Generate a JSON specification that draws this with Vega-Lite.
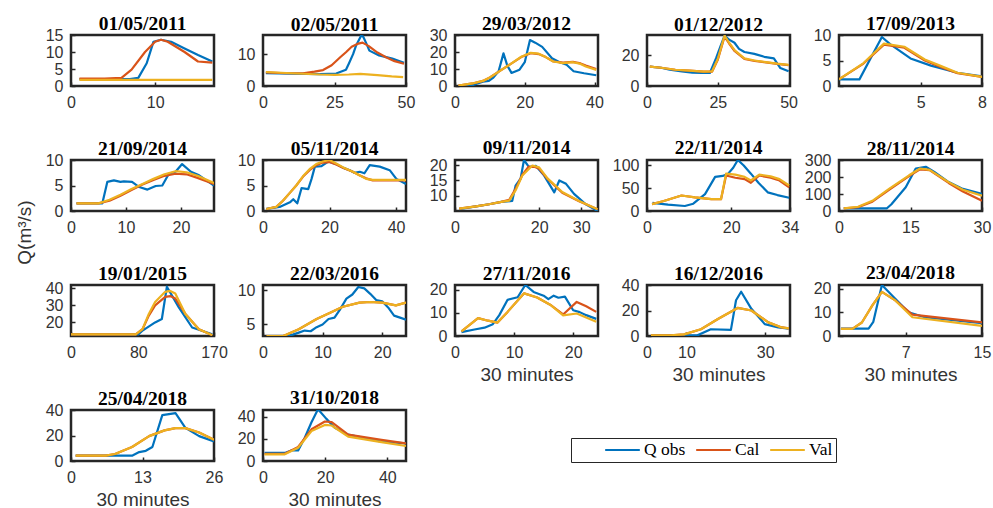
{
"$schema": "https://vega.github.io/schema/vega-lite/v6.json",
"padding": {"left": 13, "top": 12, "right": 5, "bottom": 5},
"background": "white",
"datasets": {"d": [
{"e":1,"s":"Q obs","x":1,"q":2},{"e":1,"s":"Q obs","x":4,"q":2},{"e":1,"s":"Q obs","x":7,"q":2},{"e":1,"s":"Q obs","x":8,"q":2.4},{"e":1,"s":"Q obs","x":9,"q":6.7},{"e":1,"s":"Q obs","x":9.8,"q":13},{"e":1,"s":"Q obs","x":10.7,"q":13.6},{"e":1,"s":"Q obs","x":11.9,"q":13},{"e":1,"s":"Q obs","x":13.5,"q":11},{"e":1,"s":"Q obs","x":15.1,"q":9.1},{"e":1,"s":"Q obs","x":16.8,"q":7.2},
{"e":1,"s":"Cal","x":1,"q":2.2},{"e":1,"s":"Cal","x":4,"q":2.2},{"e":1,"s":"Cal","x":6,"q":2.4},{"e":1,"s":"Cal","x":7.2,"q":4.8},{"e":1,"s":"Cal","x":8.8,"q":10},{"e":1,"s":"Cal","x":10,"q":13},{"e":1,"s":"Cal","x":10.7,"q":13.6},{"e":1,"s":"Cal","x":11.5,"q":13},{"e":1,"s":"Cal","x":13.5,"q":10},{"e":1,"s":"Cal","x":15.1,"q":7.2},{"e":1,"s":"Cal","x":16.8,"q":6.9},
{"e":1,"s":"Val","x":1,"q":1.8},{"e":1,"s":"Val","x":9,"q":1.8},{"e":1,"s":"Val","x":16.8,"q":1.8},

{"e":2,"s":"Q obs","x":1,"q":4},{"e":2,"s":"Q obs","x":10,"q":3.9},{"e":2,"s":"Q obs","x":20,"q":3.7},{"e":2,"s":"Q obs","x":25.6,"q":3.9},{"e":2,"s":"Q obs","x":29,"q":5.1},{"e":2,"s":"Q obs","x":30,"q":7},{"e":2,"s":"Q obs","x":31.5,"q":10},{"e":2,"s":"Q obs","x":32.5,"q":12.6},{"e":2,"s":"Q obs","x":34.3,"q":15.8},{"e":2,"s":"Q obs","x":35,"q":15.5},{"e":2,"s":"Q obs","x":36,"q":13.6},{"e":2,"s":"Q obs","x":37.2,"q":11.1},{"e":2,"s":"Q obs","x":40.6,"q":9.6},{"e":2,"s":"Q obs","x":45.2,"q":8.6},{"e":2,"s":"Q obs","x":49.3,"q":7.3},
{"e":2,"s":"Cal","x":1,"q":4.3},{"e":2,"s":"Cal","x":8,"q":4},{"e":2,"s":"Cal","x":14,"q":4},{"e":2,"s":"Cal","x":18,"q":4.5},{"e":2,"s":"Cal","x":21,"q":5},{"e":2,"s":"Cal","x":24,"q":6.5},{"e":2,"s":"Cal","x":27,"q":9},{"e":2,"s":"Cal","x":29,"q":10.6},{"e":2,"s":"Cal","x":31,"q":12.3},{"e":2,"s":"Cal","x":33,"q":13.2},{"e":2,"s":"Cal","x":34.8,"q":13.6},{"e":2,"s":"Cal","x":37,"q":12.5},{"e":2,"s":"Cal","x":40,"q":10.5},{"e":2,"s":"Cal","x":43,"q":9},{"e":2,"s":"Cal","x":46,"q":7.8},{"e":2,"s":"Cal","x":49.3,"q":7},
{"e":2,"s":"Val","x":1,"q":4.4},{"e":2,"s":"Val","x":10,"q":4},{"e":2,"s":"Val","x":20,"q":3.6},{"e":2,"s":"Val","x":25,"q":3.5},{"e":2,"s":"Val","x":30,"q":3.6},{"e":2,"s":"Val","x":34,"q":3.8},{"e":2,"s":"Val","x":40,"q":3.4},{"e":2,"s":"Val","x":45,"q":3},{"e":2,"s":"Val","x":49,"q":2.8},

{"e":3,"s":"Q obs","x":1,"q":0},{"e":3,"s":"Q obs","x":5,"q":0.5},{"e":3,"s":"Q obs","x":8,"q":2.5},{"e":3,"s":"Q obs","x":9.7,"q":3},{"e":3,"s":"Q obs","x":11,"q":5},{"e":3,"s":"Q obs","x":12.5,"q":8.7},{"e":3,"s":"Q obs","x":13.9,"q":19.2},{"e":3,"s":"Q obs","x":15,"q":12},{"e":3,"s":"Q obs","x":16.2,"q":7.7},{"e":3,"s":"Q obs","x":18.5,"q":9.6},{"e":3,"s":"Q obs","x":20,"q":14},{"e":3,"s":"Q obs","x":21.5,"q":27},{"e":3,"s":"Q obs","x":23,"q":25.5},{"e":3,"s":"Q obs","x":25,"q":23},{"e":3,"s":"Q obs","x":27.8,"q":16.3},{"e":3,"s":"Q obs","x":30,"q":14},{"e":3,"s":"Q obs","x":32,"q":12.5},{"e":3,"s":"Q obs","x":34,"q":8.7},{"e":3,"s":"Q obs","x":37,"q":7.5},{"e":3,"s":"Q obs","x":40.5,"q":6.3},
{"e":3,"s":"Cal","x":1,"q":0.3},{"e":3,"s":"Cal","x":5,"q":1.5},{"e":3,"s":"Cal","x":8,"q":3},{"e":3,"s":"Cal","x":10,"q":5},{"e":3,"s":"Cal","x":13,"q":9},{"e":3,"s":"Cal","x":16,"q":13},{"e":3,"s":"Cal","x":19,"q":17},{"e":3,"s":"Cal","x":21.7,"q":19.3},{"e":3,"s":"Cal","x":24,"q":18.8},{"e":3,"s":"Cal","x":26,"q":17},{"e":3,"s":"Cal","x":28.2,"q":14.4},{"e":3,"s":"Cal","x":31,"q":13.7},{"e":3,"s":"Cal","x":33.8,"q":14.2},{"e":3,"s":"Cal","x":36,"q":13.3},{"e":3,"s":"Cal","x":37.5,"q":12},{"e":3,"s":"Cal","x":40.5,"q":10},
{"e":3,"s":"Val","x":1,"q":0.3},{"e":3,"s":"Val","x":5,"q":1.5},{"e":3,"s":"Val","x":8,"q":3},{"e":3,"s":"Val","x":10,"q":5},{"e":3,"s":"Val","x":13,"q":9},{"e":3,"s":"Val","x":16,"q":13},{"e":3,"s":"Val","x":19,"q":17.2},{"e":3,"s":"Val","x":21.7,"q":19.5},{"e":3,"s":"Val","x":24,"q":19},{"e":3,"s":"Val","x":26,"q":17},{"e":3,"s":"Val","x":28.2,"q":14.4},{"e":3,"s":"Val","x":31,"q":13.5},{"e":3,"s":"Val","x":33.8,"q":14},{"e":3,"s":"Val","x":36,"q":13},{"e":3,"s":"Val","x":37.5,"q":11.5},{"e":3,"s":"Val","x":40.5,"q":9.5},

{"e":4,"s":"Q obs","x":1,"q":12.5},{"e":4,"s":"Q obs","x":5,"q":11.8},{"e":4,"s":"Q obs","x":8,"q":10.5},{"e":4,"s":"Q obs","x":12.3,"q":9.5},{"e":4,"s":"Q obs","x":16,"q":8.7},{"e":4,"s":"Q obs","x":19.3,"q":8.4},{"e":4,"s":"Q obs","x":22.2,"q":8.4},{"e":4,"s":"Q obs","x":24.4,"q":18},{"e":4,"s":"Q obs","x":26,"q":26},{"e":4,"s":"Q obs","x":27.4,"q":32.5},{"e":4,"s":"Q obs","x":29,"q":30},{"e":4,"s":"Q obs","x":30.9,"q":28},{"e":4,"s":"Q obs","x":32.5,"q":24},{"e":4,"s":"Q obs","x":34.4,"q":22},{"e":4,"s":"Q obs","x":37.9,"q":20.8},{"e":4,"s":"Q obs","x":41.4,"q":18.9},{"e":4,"s":"Q obs","x":44.8,"q":17.9},{"e":4,"s":"Q obs","x":47.1,"q":11.6},{"e":4,"s":"Q obs","x":50,"q":9.5},
{"e":4,"s":"Cal","x":1,"q":12.5},{"e":4,"s":"Cal","x":5,"q":11.8},{"e":4,"s":"Cal","x":10,"q":10.5},{"e":4,"s":"Cal","x":15,"q":10},{"e":4,"s":"Cal","x":20,"q":9.3},{"e":4,"s":"Cal","x":23,"q":9.3},{"e":4,"s":"Cal","x":25,"q":17},{"e":4,"s":"Cal","x":27.4,"q":32},{"e":4,"s":"Cal","x":29,"q":27.5},{"e":4,"s":"Cal","x":31,"q":22.5},{"e":4,"s":"Cal","x":34.4,"q":17.5},{"e":4,"s":"Cal","x":38,"q":16.2},{"e":4,"s":"Cal","x":42,"q":15.3},{"e":4,"s":"Cal","x":46,"q":14.3},{"e":4,"s":"Cal","x":50,"q":13.5},
{"e":4,"s":"Val","x":1,"q":12.5},{"e":4,"s":"Val","x":5,"q":11.8},{"e":4,"s":"Val","x":10,"q":10.5},{"e":4,"s":"Val","x":15,"q":10},{"e":4,"s":"Val","x":20,"q":9.3},{"e":4,"s":"Val","x":23,"q":9.5},{"e":4,"s":"Val","x":25,"q":17.5},{"e":4,"s":"Val","x":27.4,"q":32.6},{"e":4,"s":"Val","x":29,"q":28},{"e":4,"s":"Val","x":31,"q":23},{"e":4,"s":"Val","x":34.4,"q":17.9},{"e":4,"s":"Val","x":38,"q":16.5},{"e":4,"s":"Val","x":42,"q":15.5},{"e":4,"s":"Val","x":46,"q":14.5},{"e":4,"s":"Val","x":50,"q":13.7},

{"e":5,"s":"Q obs","x":1,"q":1.3},{"e":5,"s":"Q obs","x":2,"q":1.3},{"e":5,"s":"Q obs","x":3.1,"q":9.6},{"e":5,"s":"Q obs","x":3.5,"q":8.2},{"e":5,"s":"Q obs","x":4.5,"q":5.4},{"e":5,"s":"Q obs","x":5.5,"q":4},{"e":5,"s":"Q obs","x":6.8,"q":2.6},{"e":5,"s":"Q obs","x":8,"q":1.9},
{"e":5,"s":"Cal","x":1,"q":1.3},{"e":5,"s":"Cal","x":2.2,"q":4.4},{"e":5,"s":"Cal","x":3.2,"q":8.1},{"e":5,"s":"Cal","x":4.2,"q":7.5},{"e":5,"s":"Cal","x":5.2,"q":5},{"e":5,"s":"Cal","x":6,"q":3.7},{"e":5,"s":"Cal","x":6.8,"q":2.5},{"e":5,"s":"Cal","x":8,"q":1.8},
{"e":5,"s":"Val","x":1,"q":1.3},{"e":5,"s":"Val","x":2.2,"q":4.5},{"e":5,"s":"Val","x":3.2,"q":8.3},{"e":5,"s":"Val","x":4.2,"q":7.7},{"e":5,"s":"Val","x":5.2,"q":5.2},{"e":5,"s":"Val","x":6,"q":3.9},{"e":5,"s":"Val","x":6.8,"q":2.6},{"e":5,"s":"Val","x":8,"q":1.8},

{"e":6,"s":"Q obs","x":1,"q":1.5},{"e":6,"s":"Q obs","x":5.7,"q":1.5},{"e":6,"s":"Q obs","x":6.6,"q":5.7},{"e":6,"s":"Q obs","x":7.8,"q":6},{"e":6,"s":"Q obs","x":9,"q":5.7},{"e":6,"s":"Q obs","x":9.6,"q":5.8},{"e":6,"s":"Q obs","x":11.1,"q":5.7},{"e":6,"s":"Q obs","x":12.4,"q":4.7},{"e":6,"s":"Q obs","x":13.9,"q":4.2},{"e":6,"s":"Q obs","x":15.4,"q":4.9},{"e":6,"s":"Q obs","x":16.6,"q":5},{"e":6,"s":"Q obs","x":17.8,"q":7.3},{"e":6,"s":"Q obs","x":19,"q":7.7},{"e":6,"s":"Q obs","x":20.2,"q":9.2},{"e":6,"s":"Q obs","x":21.8,"q":7.7},{"e":6,"s":"Q obs","x":23.3,"q":7},{"e":6,"s":"Q obs","x":26,"q":5},
{"e":6,"s":"Cal","x":1,"q":1.5},{"e":6,"s":"Cal","x":5,"q":1.5},{"e":6,"s":"Cal","x":7,"q":2},{"e":6,"s":"Cal","x":9,"q":3},{"e":6,"s":"Cal","x":11,"q":4.1},{"e":6,"s":"Cal","x":13,"q":5.2},{"e":6,"s":"Cal","x":15,"q":6.1},{"e":6,"s":"Cal","x":17,"q":6.9},{"e":6,"s":"Cal","x":19,"q":7.3},{"e":6,"s":"Cal","x":21,"q":7.2},{"e":6,"s":"Cal","x":23,"q":6.5},{"e":6,"s":"Cal","x":26,"q":5.3},
{"e":6,"s":"Val","x":1,"q":1.5},{"e":6,"s":"Val","x":5,"q":1.5},{"e":6,"s":"Val","x":7,"q":2.2},{"e":6,"s":"Val","x":9,"q":3.2},{"e":6,"s":"Val","x":11,"q":4.3},{"e":6,"s":"Val","x":13,"q":5.3},{"e":6,"s":"Val","x":15,"q":6.3},{"e":6,"s":"Val","x":17,"q":7.2},{"e":6,"s":"Val","x":19,"q":7.8},{"e":6,"s":"Val","x":21,"q":7.6},{"e":6,"s":"Val","x":23,"q":6.9},{"e":6,"s":"Val","x":26,"q":5.5},

{"e":7,"s":"Q obs","x":1,"q":0.4},{"e":7,"s":"Q obs","x":5,"q":0.8},{"e":7,"s":"Q obs","x":8.1,"q":1.7},{"e":7,"s":"Q obs","x":9.1,"q":2.3},{"e":7,"s":"Q obs","x":10.3,"q":1.5},{"e":7,"s":"Q obs","x":11.6,"q":4.5},{"e":7,"s":"Q obs","x":13.6,"q":4.3},{"e":7,"s":"Q obs","x":14.6,"q":6.3},{"e":7,"s":"Q obs","x":15.6,"q":8.7},{"e":7,"s":"Q obs","x":17.6,"q":8.8},{"e":7,"s":"Q obs","x":19.6,"q":9.7},{"e":7,"s":"Q obs","x":22,"q":9.2},{"e":7,"s":"Q obs","x":24,"q":8.5},{"e":7,"s":"Q obs","x":26.1,"q":8},{"e":7,"s":"Q obs","x":27.5,"q":7.5},{"e":7,"s":"Q obs","x":29.1,"q":7.7},{"e":7,"s":"Q obs","x":30.5,"q":7.4},{"e":7,"s":"Q obs","x":32.1,"q":9},{"e":7,"s":"Q obs","x":35.1,"q":8.7},{"e":7,"s":"Q obs","x":38.1,"q":8},{"e":7,"s":"Q obs","x":40.1,"q":6.3},{"e":7,"s":"Q obs","x":43,"q":5.3},
{"e":7,"s":"Cal","x":1,"q":0.4},{"e":7,"s":"Cal","x":4,"q":0.8},{"e":7,"s":"Cal","x":6,"q":2},{"e":7,"s":"Cal","x":8,"q":3.5},{"e":7,"s":"Cal","x":10,"q":5},{"e":7,"s":"Cal","x":12,"q":6.7},{"e":7,"s":"Cal","x":14,"q":8},{"e":7,"s":"Cal","x":16,"q":9},{"e":7,"s":"Cal","x":18,"q":9.5},{"e":7,"s":"Cal","x":20,"q":9.6},{"e":7,"s":"Cal","x":22,"q":9.1},{"e":7,"s":"Cal","x":24,"q":8.5},{"e":7,"s":"Cal","x":27,"q":7.7},{"e":7,"s":"Cal","x":29,"q":7},{"e":7,"s":"Cal","x":31,"q":6.4},{"e":7,"s":"Cal","x":33,"q":6},{"e":7,"s":"Cal","x":36,"q":6},{"e":7,"s":"Cal","x":40,"q":6},{"e":7,"s":"Cal","x":43,"q":6},
{"e":7,"s":"Val","x":1,"q":0.4},{"e":7,"s":"Val","x":4,"q":0.8},{"e":7,"s":"Val","x":6,"q":2},{"e":7,"s":"Val","x":8,"q":3.5},{"e":7,"s":"Val","x":10,"q":5},{"e":7,"s":"Val","x":12,"q":6.8},{"e":7,"s":"Val","x":14,"q":8.2},{"e":7,"s":"Val","x":16,"q":9.2},{"e":7,"s":"Val","x":18,"q":9.7},{"e":7,"s":"Val","x":20,"q":10},{"e":7,"s":"Val","x":22,"q":9.3},{"e":7,"s":"Val","x":24,"q":8.6},{"e":7,"s":"Val","x":27,"q":7.7},{"e":7,"s":"Val","x":29,"q":7},{"e":7,"s":"Val","x":31,"q":6.3},{"e":7,"s":"Val","x":33,"q":6.1},{"e":7,"s":"Val","x":36,"q":6.1},{"e":7,"s":"Val","x":40,"q":6.1},{"e":7,"s":"Val","x":43,"q":6.1},

{"e":8,"s":"Q obs","x":1,"q":5.6},{"e":8,"s":"Q obs","x":5,"q":6.5},{"e":8,"s":"Q obs","x":8.1,"q":7.2},{"e":8,"s":"Q obs","x":11,"q":8},{"e":8,"s":"Q obs","x":13.6,"q":8.3},{"e":8,"s":"Q obs","x":14.4,"q":13.3},{"e":8,"s":"Q obs","x":15.6,"q":15.6},{"e":8,"s":"Q obs","x":16.4,"q":21.7},{"e":8,"s":"Q obs","x":17.6,"q":19.4},{"e":8,"s":"Q obs","x":19.2,"q":19.8},{"e":8,"s":"Q obs","x":21.2,"q":16.6},{"e":8,"s":"Q obs","x":23.6,"q":11.1},{"e":8,"s":"Q obs","x":24.8,"q":15},{"e":8,"s":"Q obs","x":26.4,"q":13.9},{"e":8,"s":"Q obs","x":28.3,"q":10.6},{"e":8,"s":"Q obs","x":31.1,"q":7.2},{"e":8,"s":"Q obs","x":33.9,"q":5},
{"e":8,"s":"Cal","x":1,"q":5.8},{"e":8,"s":"Cal","x":5,"q":6.5},{"e":8,"s":"Cal","x":8.1,"q":7.2},{"e":8,"s":"Cal","x":11,"q":8},{"e":8,"s":"Cal","x":12.9,"q":8.7},{"e":8,"s":"Cal","x":14.5,"q":12.5},{"e":8,"s":"Cal","x":16,"q":16.8},{"e":8,"s":"Cal","x":17.5,"q":19.5},{"e":8,"s":"Cal","x":19,"q":19.4},{"e":8,"s":"Cal","x":20,"q":18.8},{"e":8,"s":"Cal","x":22,"q":15.5},{"e":8,"s":"Cal","x":25.5,"q":11},{"e":8,"s":"Cal","x":29.5,"q":8.2},{"e":8,"s":"Cal","x":33.9,"q":5.6},
{"e":8,"s":"Val","x":1,"q":5.8},{"e":8,"s":"Val","x":5,"q":6.5},{"e":8,"s":"Val","x":8.1,"q":7.2},{"e":8,"s":"Val","x":11,"q":8},{"e":8,"s":"Val","x":12.9,"q":8.4},{"e":8,"s":"Val","x":14.5,"q":12},{"e":8,"s":"Val","x":16,"q":16.6},{"e":8,"s":"Val","x":18.4,"q":19.9},{"e":8,"s":"Val","x":20,"q":19.3},{"e":8,"s":"Val","x":22,"q":15.7},{"e":8,"s":"Val","x":25.5,"q":11.2},{"e":8,"s":"Val","x":29.5,"q":8.3},{"e":8,"s":"Val","x":33.9,"q":5.6},

{"e":9,"s":"Q obs","x":1.3,"q":18},{"e":9,"s":"Q obs","x":5,"q":14},{"e":9,"s":"Q obs","x":9,"q":11},{"e":9,"s":"Q obs","x":11,"q":16},{"e":9,"s":"Q obs","x":13.8,"q":37},{"e":9,"s":"Q obs","x":16.2,"q":75},{"e":9,"s":"Q obs","x":18,"q":77},{"e":9,"s":"Q obs","x":19.3,"q":82},{"e":9,"s":"Q obs","x":20.5,"q":95},{"e":9,"s":"Q obs","x":21.6,"q":112},{"e":9,"s":"Q obs","x":23,"q":100},{"e":9,"s":"Q obs","x":24.7,"q":82},{"e":9,"s":"Q obs","x":26.5,"q":62},{"e":9,"s":"Q obs","x":28.7,"q":41},{"e":9,"s":"Q obs","x":31,"q":35},{"e":9,"s":"Q obs","x":33.8,"q":29},
{"e":9,"s":"Cal","x":1.2,"q":15},{"e":9,"s":"Cal","x":4,"q":22},{"e":9,"s":"Cal","x":8.2,"q":34},{"e":9,"s":"Cal","x":11.4,"q":30},{"e":9,"s":"Cal","x":15.3,"q":26},{"e":9,"s":"Cal","x":17.6,"q":26},{"e":9,"s":"Cal","x":18.8,"q":78},{"e":9,"s":"Cal","x":21,"q":73},{"e":9,"s":"Cal","x":23.2,"q":70},{"e":9,"s":"Cal","x":24.7,"q":62},{"e":9,"s":"Cal","x":26.7,"q":78},{"e":9,"s":"Cal","x":29.4,"q":73},{"e":9,"s":"Cal","x":31.5,"q":67},{"e":9,"s":"Cal","x":33.8,"q":52},
{"e":9,"s":"Val","x":1.2,"q":15},{"e":9,"s":"Val","x":4,"q":22},{"e":9,"s":"Val","x":8.2,"q":34},{"e":9,"s":"Val","x":11.4,"q":30},{"e":9,"s":"Val","x":15.3,"q":26},{"e":9,"s":"Val","x":17.6,"q":26},{"e":9,"s":"Val","x":18.8,"q":82},{"e":9,"s":"Val","x":21,"q":80},{"e":9,"s":"Val","x":23.2,"q":75},{"e":9,"s":"Val","x":24.7,"q":67},{"e":9,"s":"Val","x":26.7,"q":80},{"e":9,"s":"Val","x":29.4,"q":76},{"e":9,"s":"Val","x":31.5,"q":70},{"e":9,"s":"Val","x":33.8,"q":56},

{"e":10,"s":"Q obs","x":1,"q":15},{"e":10,"s":"Q obs","x":5,"q":15},{"e":10,"s":"Q obs","x":10,"q":15},{"e":10,"s":"Q obs","x":11,"q":40},{"e":10,"s":"Q obs","x":14,"q":140},{"e":10,"s":"Q obs","x":16.1,"q":250},{"e":10,"s":"Q obs","x":18.2,"q":260},{"e":10,"s":"Q obs","x":20,"q":230},{"e":10,"s":"Q obs","x":23,"q":170},{"e":10,"s":"Q obs","x":26,"q":130},{"e":10,"s":"Q obs","x":30,"q":100},
{"e":10,"s":"Cal","x":1,"q":15},{"e":10,"s":"Cal","x":4,"q":22},{"e":10,"s":"Cal","x":7,"q":55},{"e":10,"s":"Cal","x":10.5,"q":125},{"e":10,"s":"Cal","x":14.7,"q":205},{"e":10,"s":"Cal","x":17,"q":245},{"e":10,"s":"Cal","x":19,"q":240},{"e":10,"s":"Cal","x":23,"q":165},{"e":10,"s":"Cal","x":26,"q":115},{"e":10,"s":"Cal","x":30,"q":60},
{"e":10,"s":"Val","x":1,"q":15},{"e":10,"s":"Val","x":4,"q":25},{"e":10,"s":"Val","x":7,"q":60},{"e":10,"s":"Val","x":10.5,"q":130},{"e":10,"s":"Val","x":14.7,"q":210},{"e":10,"s":"Val","x":17,"q":250},{"e":10,"s":"Val","x":19,"q":242},{"e":10,"s":"Val","x":23,"q":170},{"e":10,"s":"Val","x":26,"q":125},{"e":10,"s":"Val","x":30,"q":90},

{"e":11,"s":"Q obs","x":0,"q":13},{"e":11,"s":"Q obs","x":40,"q":13},{"e":11,"s":"Q obs","x":80,"q":13},{"e":11,"s":"Q obs","x":84.6,"q":15},{"e":11,"s":"Q obs","x":100,"q":20},{"e":11,"s":"Q obs","x":108,"q":22},{"e":11,"s":"Q obs","x":114,"q":41},{"e":11,"s":"Q obs","x":128,"q":29},{"e":11,"s":"Q obs","x":144,"q":17},{"e":11,"s":"Q obs","x":168,"q":13},
{"e":11,"s":"Cal","x":0,"q":13},{"e":11,"s":"Cal","x":77,"q":13},{"e":11,"s":"Cal","x":85,"q":16},{"e":11,"s":"Cal","x":92.5,"q":24},{"e":11,"s":"Cal","x":100,"q":30},{"e":11,"s":"Cal","x":112,"q":35},{"e":11,"s":"Cal","x":118,"q":35.5},{"e":11,"s":"Cal","x":124,"q":34},{"e":11,"s":"Cal","x":136,"q":25},{"e":11,"s":"Cal","x":152,"q":16},{"e":11,"s":"Cal","x":168,"q":12.5},
{"e":11,"s":"Val","x":0,"q":13},{"e":11,"s":"Val","x":77,"q":13},{"e":11,"s":"Val","x":85,"q":16},{"e":11,"s":"Val","x":92.5,"q":25},{"e":11,"s":"Val","x":100,"q":32},{"e":11,"s":"Val","x":112,"q":38},{"e":11,"s":"Val","x":118,"q":38.5},{"e":11,"s":"Val","x":124,"q":37},{"e":11,"s":"Val","x":136,"q":25},{"e":11,"s":"Val","x":152,"q":16},{"e":11,"s":"Val","x":168,"q":12.5},

{"e":12,"s":"Q obs","x":1,"q":3.3},{"e":12,"s":"Q obs","x":4,"q":3.3},{"e":12,"s":"Q obs","x":5,"q":3.5},{"e":12,"s":"Q obs","x":6,"q":3.8},{"e":12,"s":"Q obs","x":7,"q":4.1},{"e":12,"s":"Q obs","x":8,"q":4},{"e":12,"s":"Q obs","x":9,"q":4.6},{"e":12,"s":"Q obs","x":10,"q":5},{"e":12,"s":"Q obs","x":11,"q":5.8},{"e":12,"s":"Q obs","x":12,"q":6},{"e":12,"s":"Q obs","x":13,"q":7.3},{"e":12,"s":"Q obs","x":14,"q":8.8},{"e":12,"s":"Q obs","x":15,"q":9.4},{"e":12,"s":"Q obs","x":16,"q":10.5},{"e":12,"s":"Q obs","x":17,"q":10.3},{"e":12,"s":"Q obs","x":18,"q":9.5},{"e":12,"s":"Q obs","x":19,"q":8.6},{"e":12,"s":"Q obs","x":20,"q":8.4},{"e":12,"s":"Q obs","x":21,"q":7.5},{"e":12,"s":"Q obs","x":22,"q":6.3},{"e":12,"s":"Q obs","x":23,"q":6},{"e":12,"s":"Q obs","x":24,"q":5.7},
{"e":12,"s":"Cal","x":0.6,"q":3.3},{"e":12,"s":"Cal","x":3.4,"q":3.3},{"e":12,"s":"Cal","x":6,"q":4.3},{"e":12,"s":"Cal","x":9,"q":5.8},{"e":12,"s":"Cal","x":11,"q":6.6},{"e":12,"s":"Cal","x":13.4,"q":7.6},{"e":12,"s":"Cal","x":16.2,"q":8.2},{"e":12,"s":"Cal","x":18,"q":8.3},{"e":12,"s":"Cal","x":20,"q":8.2},{"e":12,"s":"Cal","x":22.3,"q":7.8},{"e":12,"s":"Cal","x":24,"q":8.2},
{"e":12,"s":"Val","x":0.6,"q":3.3},{"e":12,"s":"Val","x":3.4,"q":3.3},{"e":12,"s":"Val","x":6,"q":4.3},{"e":12,"s":"Val","x":9,"q":5.8},{"e":12,"s":"Val","x":11,"q":6.6},{"e":12,"s":"Val","x":13.4,"q":7.6},{"e":12,"s":"Val","x":16.2,"q":8.2},{"e":12,"s":"Val","x":18,"q":8.3},{"e":12,"s":"Val","x":20,"q":8.2},{"e":12,"s":"Val","x":22.3,"q":7.8},{"e":12,"s":"Val","x":24,"q":8.2},

{"e":13,"s":"Q obs","x":1.1,"q":1.7},{"e":13,"s":"Q obs","x":3.3,"q":2.8},{"e":13,"s":"Q obs","x":5,"q":3.6},{"e":13,"s":"Q obs","x":6.4,"q":5.1},{"e":13,"s":"Q obs","x":7.5,"q":9},{"e":13,"s":"Q obs","x":8.9,"q":15.6},{"e":13,"s":"Q obs","x":10.6,"q":16.7},{"e":13,"s":"Q obs","x":11.9,"q":22},{"e":13,"s":"Q obs","x":13.3,"q":19},{"e":13,"s":"Q obs","x":15,"q":17.4},{"e":13,"s":"Q obs","x":15.8,"q":15.9},{"e":13,"s":"Q obs","x":16.7,"q":17.4},{"e":13,"s":"Q obs","x":17.5,"q":16.5},{"e":13,"s":"Q obs","x":18.6,"q":17},{"e":13,"s":"Q obs","x":20,"q":11.1},{"e":13,"s":"Q obs","x":21.1,"q":10.3},{"e":13,"s":"Q obs","x":22.2,"q":9},{"e":13,"s":"Q obs","x":23.9,"q":7.4},
{"e":13,"s":"Cal","x":1.1,"q":2},{"e":13,"s":"Cal","x":3.9,"q":7.7},{"e":13,"s":"Cal","x":5.6,"q":6.6},{"e":13,"s":"Cal","x":7.2,"q":5.8},{"e":13,"s":"Cal","x":8.9,"q":10.4},{"e":13,"s":"Cal","x":11.7,"q":18.4},{"e":13,"s":"Cal","x":13.9,"q":16.6},{"e":13,"s":"Cal","x":16.1,"q":13.5},{"e":13,"s":"Cal","x":18.3,"q":9.3},{"e":13,"s":"Cal","x":20.6,"q":14.7},{"e":13,"s":"Cal","x":22.2,"q":12.8},{"e":13,"s":"Cal","x":23.9,"q":10.4},
{"e":13,"s":"Val","x":1.1,"q":2},{"e":13,"s":"Val","x":3.9,"q":7.7},{"e":13,"s":"Val","x":5.6,"q":6.6},{"e":13,"s":"Val","x":7.2,"q":5.8},{"e":13,"s":"Val","x":8.9,"q":10.4},{"e":13,"s":"Val","x":11.7,"q":18.4},{"e":13,"s":"Val","x":13.9,"q":16.6},{"e":13,"s":"Val","x":16.1,"q":13.5},{"e":13,"s":"Val","x":18.3,"q":8.9},{"e":13,"s":"Val","x":20.6,"q":9.7},{"e":13,"s":"Val","x":23.9,"q":6.1},

{"e":14,"s":"Q obs","x":1,"q":0.5},{"e":14,"s":"Q obs","x":12.8,"q":0.5},{"e":14,"s":"Q obs","x":16.2,"q":5.3},{"e":14,"s":"Q obs","x":21.3,"q":4.8},{"e":14,"s":"Q obs","x":22.6,"q":28},{"e":14,"s":"Q obs","x":23.9,"q":34.7},{"e":14,"s":"Q obs","x":26.5,"q":21.3},{"e":14,"s":"Q obs","x":29.9,"q":9.3},{"e":14,"s":"Q obs","x":33.3,"q":6.7},{"e":14,"s":"Q obs","x":36,"q":5.8},
{"e":14,"s":"Cal","x":1,"q":0.5},{"e":14,"s":"Cal","x":6,"q":0.6},{"e":14,"s":"Cal","x":9.4,"q":1.3},{"e":14,"s":"Cal","x":13.7,"q":5.3},{"e":14,"s":"Cal","x":18,"q":13.3},{"e":14,"s":"Cal","x":23,"q":22},{"e":14,"s":"Cal","x":26.5,"q":20},{"e":14,"s":"Cal","x":30.8,"q":10.7},{"e":14,"s":"Cal","x":34.2,"q":6.7},{"e":14,"s":"Cal","x":36,"q":6},
{"e":14,"s":"Val","x":1,"q":0.5},{"e":14,"s":"Val","x":6,"q":0.6},{"e":14,"s":"Val","x":9.4,"q":1.3},{"e":14,"s":"Val","x":13.7,"q":5.3},{"e":14,"s":"Val","x":18,"q":13.3},{"e":14,"s":"Val","x":23,"q":22},{"e":14,"s":"Val","x":26.5,"q":20},{"e":14,"s":"Val","x":30.8,"q":10.7},{"e":14,"s":"Val","x":34.2,"q":6.7},{"e":14,"s":"Val","x":36,"q":6},

{"e":15,"s":"Q obs","x":0.2,"q":3.1},{"e":15,"s":"Q obs","x":3.1,"q":3.1},{"e":15,"s":"Q obs","x":3.6,"q":6},{"e":15,"s":"Q obs","x":4.5,"q":21.5},{"e":15,"s":"Q obs","x":5.9,"q":15.7},{"e":15,"s":"Q obs","x":7.3,"q":10},{"e":15,"s":"Q obs","x":9,"q":7.9},{"e":15,"s":"Q obs","x":15,"q":5.4},
{"e":15,"s":"Cal","x":0.2,"q":3},{"e":15,"s":"Cal","x":1.4,"q":3},{"e":15,"s":"Cal","x":2.4,"q":5.7},{"e":15,"s":"Cal","x":3.5,"q":12.9},{"e":15,"s":"Cal","x":4.5,"q":18.6},{"e":15,"s":"Cal","x":5.9,"q":15},{"e":15,"s":"Cal","x":7.7,"q":9},{"e":15,"s":"Cal","x":15,"q":5.7},
{"e":15,"s":"Val","x":0.2,"q":3},{"e":15,"s":"Val","x":1.4,"q":3},{"e":15,"s":"Val","x":2.4,"q":5.7},{"e":15,"s":"Val","x":3.5,"q":12.9},{"e":15,"s":"Val","x":4.5,"q":18.6},{"e":15,"s":"Val","x":5.9,"q":15},{"e":15,"s":"Val","x":7.7,"q":7.9},{"e":15,"s":"Val","x":15,"q":4.3},

{"e":16,"s":"Q obs","x":0.85,"q":4.2},{"e":16,"s":"Q obs","x":6.9,"q":4.2},{"e":16,"s":"Q obs","x":11.1,"q":4.2},{"e":16,"s":"Q obs","x":12.4,"q":7},{"e":16,"s":"Q obs","x":13.6,"q":8},{"e":16,"s":"Q obs","x":14.8,"q":11},{"e":16,"s":"Q obs","x":16.6,"q":36},{"e":16,"s":"Q obs","x":19,"q":37.5},{"e":16,"s":"Q obs","x":20.8,"q":26},{"e":16,"s":"Q obs","x":23.3,"q":19.5},{"e":16,"s":"Q obs","x":26,"q":15.3},
{"e":16,"s":"Cal","x":0.85,"q":4.2},{"e":16,"s":"Cal","x":6.3,"q":4.2},{"e":16,"s":"Cal","x":8,"q":5.5},{"e":16,"s":"Cal","x":11.1,"q":11},{"e":16,"s":"Cal","x":14.2,"q":19.5},{"e":16,"s":"Cal","x":17,"q":24},{"e":16,"s":"Cal","x":19,"q":25.8},{"e":16,"s":"Cal","x":20.8,"q":25.8},{"e":16,"s":"Cal","x":23.3,"q":22.3},{"e":16,"s":"Cal","x":26,"q":16.7},
{"e":16,"s":"Val","x":0.85,"q":4.2},{"e":16,"s":"Val","x":6.3,"q":4.2},{"e":16,"s":"Val","x":8,"q":5.5},{"e":16,"s":"Val","x":11.1,"q":11},{"e":16,"s":"Val","x":14.2,"q":19.5},{"e":16,"s":"Val","x":17,"q":24},{"e":16,"s":"Val","x":19,"q":25.8},{"e":16,"s":"Val","x":20.8,"q":25.8},{"e":16,"s":"Val","x":23.3,"q":22.3},{"e":16,"s":"Val","x":26,"q":16.7},

{"e":17,"s":"Q obs","x":0.5,"q":7.3},{"e":17,"s":"Q obs","x":7,"q":7.3},{"e":17,"s":"Q obs","x":9.1,"q":9.5},{"e":17,"s":"Q obs","x":11.3,"q":9.5},{"e":17,"s":"Q obs","x":13.4,"q":20.7},{"e":17,"s":"Q obs","x":15.6,"q":35},{"e":17,"s":"Q obs","x":17.7,"q":46.7},{"e":17,"s":"Q obs","x":20.4,"q":38},{"e":17,"s":"Q obs","x":23.1,"q":30},{"e":17,"s":"Q obs","x":27.4,"q":23.8},{"e":17,"s":"Q obs","x":38.1,"q":17.5},{"e":17,"s":"Q obs","x":46,"q":15.9},
{"e":17,"s":"Cal","x":0.5,"q":6.5},{"e":17,"s":"Cal","x":7,"q":6.5},{"e":17,"s":"Cal","x":11.3,"q":12.7},{"e":17,"s":"Cal","x":15.6,"q":28.6},{"e":17,"s":"Cal","x":19.9,"q":35.6},{"e":17,"s":"Cal","x":22.1,"q":35},{"e":17,"s":"Cal","x":27.4,"q":23.8},{"e":17,"s":"Cal","x":38.1,"q":19},{"e":17,"s":"Cal","x":46,"q":15.9},
{"e":17,"s":"Val","x":0.5,"q":6},{"e":17,"s":"Val","x":7,"q":6},{"e":17,"s":"Val","x":11.3,"q":12},{"e":17,"s":"Val","x":15.6,"q":27},{"e":17,"s":"Val","x":19.9,"q":32.5},{"e":17,"s":"Val","x":22.1,"q":32},{"e":17,"s":"Val","x":27.4,"q":22},{"e":17,"s":"Val","x":38.1,"q":17},{"e":17,"s":"Val","x":46,"q":13.5}
]},
"data": {"name": "d"},
"columns": 5,
"spacing": {"row": 74, "column": 49},
"bounds": "flush",
"resolve": {"scale": {"color": "shared"}},
"concat": [
{"title":{"text":"01/05/2011","offset":-7},"width":143,"height":51,"transform":[{"filter":"datum.e==1"}],"mark":{"type":"line","clip":true},"encoding":{"x":{"field":"x","type":"quantitative","scale":{"domain":[0,17],"nice":false},"axis":{"values":[0,10],"title":null}},"y":{"field":"q","type":"quantitative","scale":{"domain":[0,15],"nice":false},"axis":{"values":[0,5,10,15],"title":null}},"color":{"field":"s","type":"nominal","scale":{"domain":["Q obs","Cal","Val"],"range":["#0072BD","#D95319","#EDB120"]},"legend":{"title":" ","titleOrient":"left","titlePadding":30}}}},
{"title":{"text":"02/05/2011","offset":0},"width":143,"height":51,"transform":[{"filter":"datum.e==2"}],"mark":{"type":"line","clip":true},"encoding":{"x":{"field":"x","type":"quantitative","scale":{"domain":[0,50],"nice":false},"axis":{"values":[0,25,50],"title":null}},"y":{"field":"q","type":"quantitative","scale":{"domain":[0,16],"nice":false},"axis":{"values":[0,10],"title":null}},"color":{"field":"s","type":"nominal","scale":{"domain":["Q obs","Cal","Val"],"range":["#0072BD","#D95319","#EDB120"]}}}},
{"title":{"text":"29/03/2012","offset":-7},"width":143,"height":51,"transform":[{"filter":"datum.e==3"}],"mark":{"type":"line","clip":true},"encoding":{"x":{"field":"x","type":"quantitative","scale":{"domain":[0,41],"nice":false},"axis":{"values":[0,20,40],"title":null}},"y":{"field":"q","type":"quantitative","scale":{"domain":[0,30],"nice":false},"axis":{"values":[0,10,20,30],"title":null}},"color":{"field":"s","type":"nominal","scale":{"domain":["Q obs","Cal","Val"],"range":["#0072BD","#D95319","#EDB120"]}}}},
{"title":{"text":"01/12/2012","offset":0},"width":143,"height":51,"transform":[{"filter":"datum.e==4"}],"mark":{"type":"line","clip":true},"encoding":{"x":{"field":"x","type":"quantitative","scale":{"domain":[0,50.5],"nice":false},"axis":{"values":[0,25,50],"title":null}},"y":{"field":"q","type":"quantitative","scale":{"domain":[0,33],"nice":false},"axis":{"values":[0,20],"title":null}},"color":{"field":"s","type":"nominal","scale":{"domain":["Q obs","Cal","Val"],"range":["#0072BD","#D95319","#EDB120"]}}}},
{"title":{"text":"17/09/2013","offset":-7},"width":143,"height":51,"transform":[{"filter":"datum.e==5"}],"mark":{"type":"line","clip":true},"encoding":{"x":{"field":"x","type":"quantitative","scale":{"domain":[1,8],"nice":false},"axis":{"values":[5,8],"title":null}},"y":{"field":"q","type":"quantitative","scale":{"domain":[0,10],"nice":false},"axis":{"values":[0,5,10],"title":null}},"color":{"field":"s","type":"nominal","scale":{"domain":["Q obs","Cal","Val"],"range":["#0072BD","#D95319","#EDB120"]}}}},
{"title":{"text":"21/09/2014","offset":-7},"width":143,"height":51,"transform":[{"filter":"datum.e==6"}],"mark":{"type":"line","clip":true},"encoding":{"x":{"field":"x","type":"quantitative","scale":{"domain":[0,26],"nice":false},"axis":{"values":[0,10,20],"title":null}},"y":{"field":"q","type":"quantitative","scale":{"domain":[0,10],"nice":false},"axis":{"values":[0,5,10],"title":"Q(m³/s)","titleX":-47,"titleY":72,"titleAngle":-90,"titleAlign":"center","titleBaseline":"middle"}},"color":{"field":"s","type":"nominal","scale":{"domain":["Q obs","Cal","Val"],"range":["#0072BD","#D95319","#EDB120"]}}}},
{"title":{"text":"05/11/2014","offset":-7},"width":143,"height":51,"transform":[{"filter":"datum.e==7"}],"mark":{"type":"line","clip":true},"encoding":{"x":{"field":"x","type":"quantitative","scale":{"domain":[0,43],"nice":false},"axis":{"values":[0,20,40],"title":null}},"y":{"field":"q","type":"quantitative","scale":{"domain":[0,10],"nice":false},"axis":{"values":[0,5,10],"title":null}},"color":{"field":"s","type":"nominal","scale":{"domain":["Q obs","Cal","Val"],"range":["#0072BD","#D95319","#EDB120"]}}}},
{"title":{"text":"09/11/2014","offset":-1.8},"width":143,"height":51,"transform":[{"filter":"datum.e==8"}],"mark":{"type":"line","clip":true},"encoding":{"x":{"field":"x","type":"quantitative","scale":{"domain":[0,34],"nice":false},"axis":{"values":[0,20,30],"title":null}},"y":{"field":"q","type":"quantitative","scale":{"domain":[5,21.7],"nice":false},"axis":{"values":[10,15,20],"title":null}},"color":{"field":"s","type":"nominal","scale":{"domain":["Q obs","Cal","Val"],"range":["#0072BD","#D95319","#EDB120"]}}}},
{"title":{"text":"22/11/2014","offset":-1.5},"width":143,"height":51,"transform":[{"filter":"datum.e==9"}],"mark":{"type":"line","clip":true},"encoding":{"x":{"field":"x","type":"quantitative","scale":{"domain":[0,34],"nice":false},"axis":{"values":[0,20,34],"title":null}},"y":{"field":"q","type":"quantitative","scale":{"domain":[0,112],"nice":false},"axis":{"values":[0,50,100],"title":null}},"color":{"field":"s","type":"nominal","scale":{"domain":["Q obs","Cal","Val"],"range":["#0072BD","#D95319","#EDB120"]}}}},
{"title":{"text":"28/11/2014","offset":-7},"width":143,"height":51,"transform":[{"filter":"datum.e==10"}],"mark":{"type":"line","clip":true},"encoding":{"x":{"field":"x","type":"quantitative","scale":{"domain":[0,30],"nice":false},"axis":{"values":[0,15,30],"title":null}},"y":{"field":"q","type":"quantitative","scale":{"domain":[0,300],"nice":false},"axis":{"values":[0,100,200,300],"title":null}},"color":{"field":"s","type":"nominal","scale":{"domain":["Q obs","Cal","Val"],"range":["#0072BD","#D95319","#EDB120"]}}}},
{"title":{"text":"19/01/2015","offset":-3.6},"width":143,"height":51,"transform":[{"filter":"datum.e==11"}],"mark":{"type":"line","clip":true},"encoding":{"x":{"field":"x","type":"quantitative","scale":{"domain":[0,170],"nice":false},"axis":{"values":[0,80,170],"title":null}},"y":{"field":"q","type":"quantitative","scale":{"domain":[12,42],"nice":false},"axis":{"values":[20,30,40],"title":null}},"color":{"field":"s","type":"nominal","scale":{"domain":["Q obs","Cal","Val"],"range":["#0072BD","#D95319","#EDB120"]}}}},
{"title":{"text":"22/03/2016","offset":-1.6},"width":143,"height":51,"transform":[{"filter":"datum.e==12"}],"mark":{"type":"line","clip":true},"encoding":{"x":{"field":"x","type":"quantitative","scale":{"domain":[0,24],"nice":false},"axis":{"values":[0,10,20],"title":null}},"y":{"field":"q","type":"quantitative","scale":{"domain":[3.3,10.8],"nice":false},"axis":{"values":[5,10],"title":null}},"color":{"field":"s","type":"nominal","scale":{"domain":["Q obs","Cal","Val"],"range":["#0072BD","#D95319","#EDB120"]}}}},
{"title":{"text":"27/11/2016","offset":-2.4},"width":143,"height":51,"transform":[{"filter":"datum.e==13"}],"mark":{"type":"line","clip":true},"encoding":{"x":{"field":"x","type":"quantitative","scale":{"domain":[0,24.2],"nice":false},"axis":{"values":[0,10,20],"title":"30 minutes"}},"y":{"field":"q","type":"quantitative","scale":{"domain":[0,22],"nice":false},"axis":{"values":[0,10,20],"title":null}},"color":{"field":"s","type":"nominal","scale":{"domain":["Q obs","Cal","Val"],"range":["#0072BD","#D95319","#EDB120"]}}}},
{"title":{"text":"16/12/2016","offset":-7},"width":143,"height":51,"transform":[{"filter":"datum.e==14"}],"mark":{"type":"line","clip":true},"encoding":{"x":{"field":"x","type":"quantitative","scale":{"domain":[0,36.3],"nice":false},"axis":{"values":[0,10,30],"title":"30 minutes"}},"y":{"field":"q","type":"quantitative","scale":{"domain":[0,40],"nice":false},"axis":{"values":[0,20,40],"title":null}},"color":{"field":"s","type":"nominal","scale":{"domain":["Q obs","Cal","Val"],"range":["#0072BD","#D95319","#EDB120"]}}}},
{"title":{"text":"23/04/2018","offset":-3.4},"width":143,"height":51,"transform":[{"filter":"datum.e==15"}],"mark":{"type":"line","clip":true},"encoding":{"x":{"field":"x","type":"quantitative","scale":{"domain":[0,15],"nice":false},"axis":{"values":[7,15],"title":"30 minutes"}},"y":{"field":"q","type":"quantitative","scale":{"domain":[0,21.5],"nice":false},"axis":{"values":[0,10,20],"title":null}},"color":{"field":"s","type":"nominal","scale":{"domain":["Q obs","Cal","Val"],"range":["#0072BD","#D95319","#EDB120"]}}}},
{"title":{"text":"25/04/2018","offset":-7},"width":143,"height":51,"transform":[{"filter":"datum.e==16"}],"mark":{"type":"line","clip":true},"encoding":{"x":{"field":"x","type":"quantitative","scale":{"domain":[0,26],"nice":false},"axis":{"values":[0,13,26],"title":"30 minutes"}},"y":{"field":"q","type":"quantitative","scale":{"domain":[0,40],"nice":false},"axis":{"values":[0,20,40],"title":null}},"color":{"field":"s","type":"nominal","scale":{"domain":["Q obs","Cal","Val"],"range":["#0072BD","#D95319","#EDB120"]}}}},
{"title":{"text":"31/10/2018","offset":-0.3},"width":143,"height":51,"transform":[{"filter":"datum.e==17"}],"mark":{"type":"line","clip":true},"encoding":{"x":{"field":"x","type":"quantitative","scale":{"domain":[0,46],"nice":false},"axis":{"values":[0,20,40],"title":"30 minutes"}},"y":{"field":"q","type":"quantitative","scale":{"domain":[0,46],"nice":false},"axis":{"values":[0,20,40],"title":null}},"color":{"field":"s","type":"nominal","scale":{"domain":["Q obs","Cal","Val"],"range":["#0072BD","#D95319","#EDB120"]}}}}
],
"config": {
"view": {"stroke": "#262626", "strokeWidth": 2.5},
"line": {"strokeWidth": 2.2, "strokeJoin": "round"},
"title": {"font": "Liberation Serif", "fontWeight": "bold", "fontSize": 19.5, "color": "black", "baseline": "alphabetic", "anchor": "middle", "frame": "group"},
"axis": {"grid": false, "domain": false, "ticks": true, "tickSize": -4, "tickWidth": 1.5, "tickColor": "#262626", "labelFont": "Liberation Sans", "labelFontSize": 16, "labelColor": "#333333", "labelPadding": 12, "labelFlush": false, "labelOverlap": false, "titleFont": "Liberation Sans", "titleFontSize": 19, "titleFontWeight": "normal", "titleColor": "#333333", "titlePadding": 5},
"legend": {"orient": "none", "legendX": 500, "legendY": 403, "direction": "horizontal", "strokeColor": "#262626", "padding": 3, "clipHeight": 18, "labelFont": "Liberation Serif", "labelFontSize": 17.5, "labelColor": "black", "symbolType": "stroke", "symbolSize": 1200, "symbolStrokeWidth": 2.5, "labelOffset": 3, "columnPadding": 9, "titleFont": "Liberation Serif", "titleFontSize": 17}
}
}
